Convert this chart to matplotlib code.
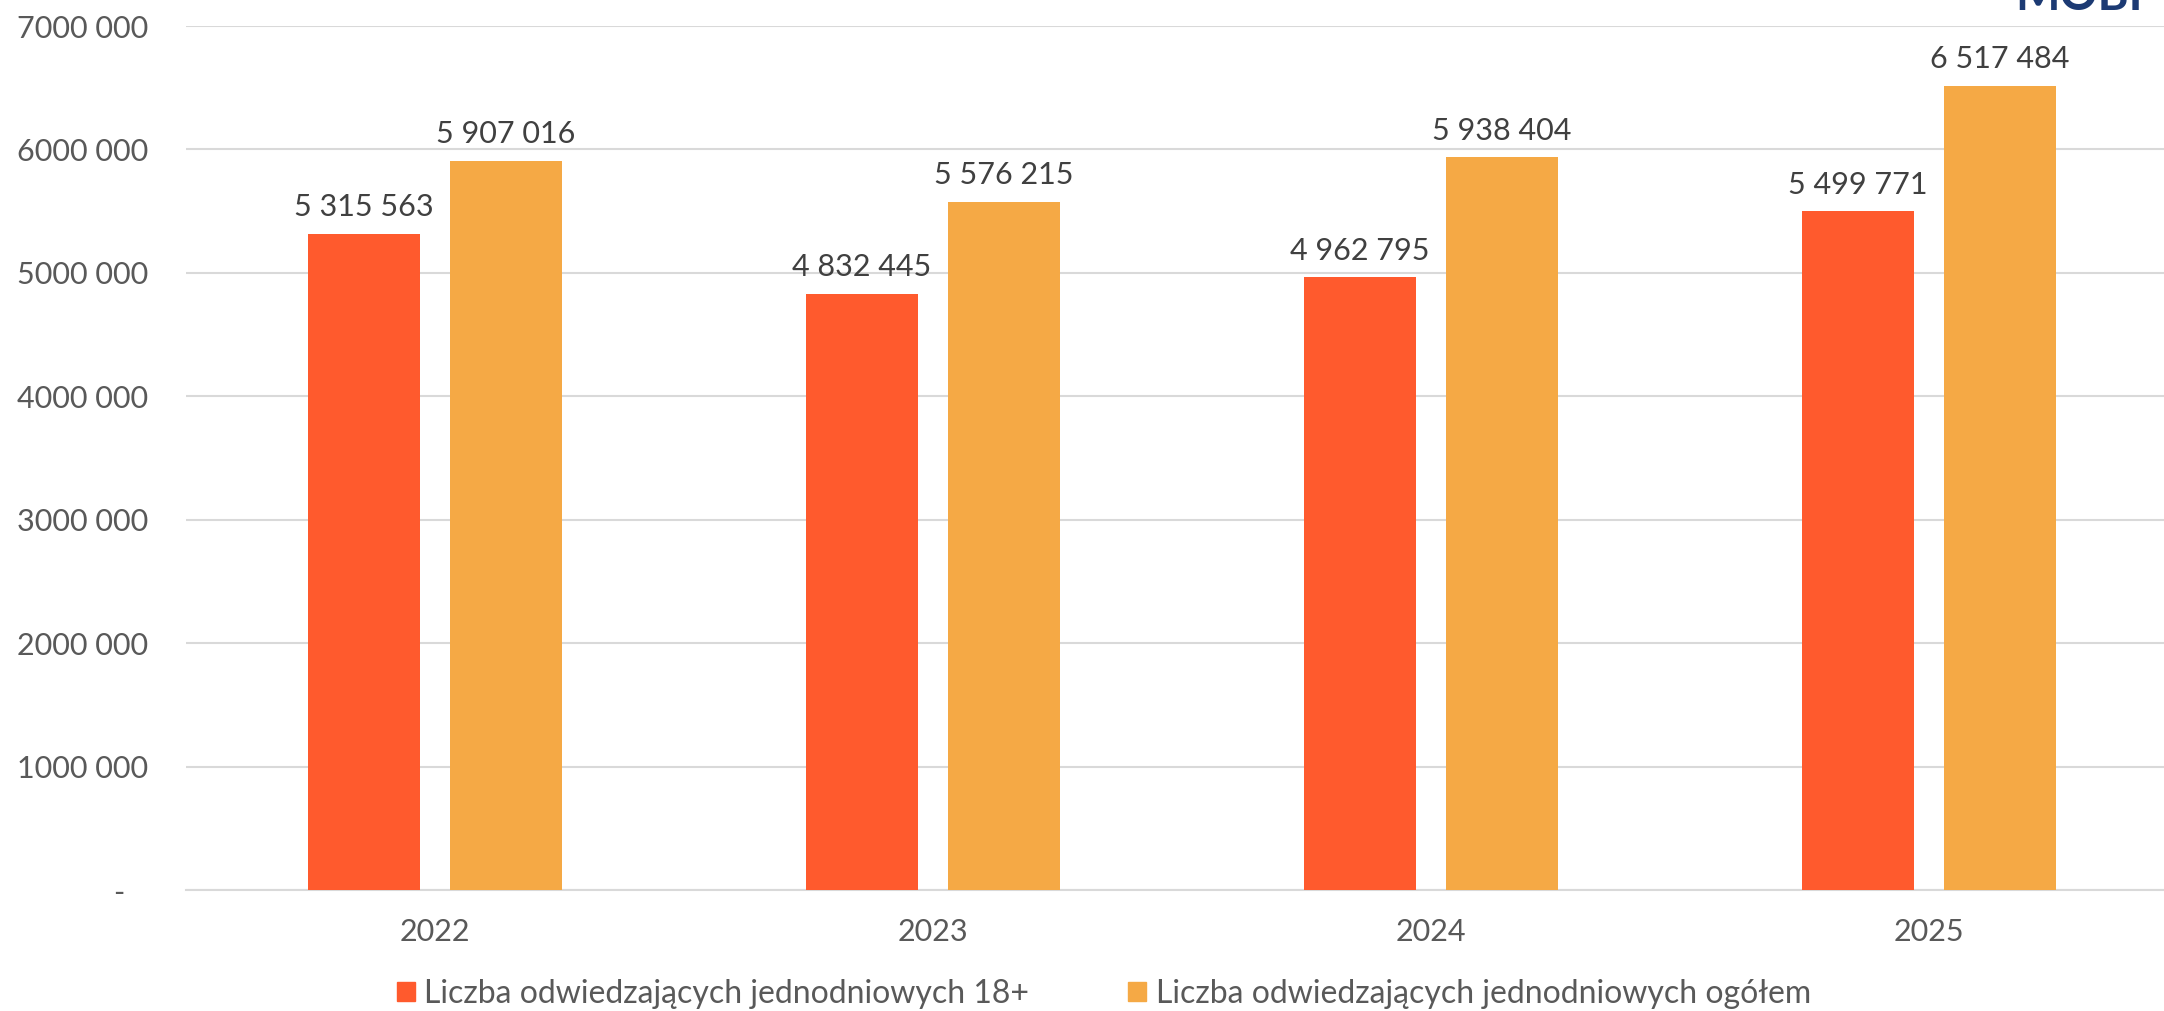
import matplotlib
matplotlib.use("Agg")
import numpy as np
import matplotlib.pyplot as plt
from matplotlib.patches import Patch

years = ["2022", "2023", "2024", "2025"]
adults = [5315563, 4832445, 4962795, 5499771]
total = [5907016, 5576215, 5938404, 6517484]
series_names = ["Liczba odwiedzających jednodniowych 18+",
                "Liczba odwiedzających jednodniowych ogółem"]
ytick_vals = [0, 1000000, 2000000, 3000000, 4000000, 5000000, 6000000, 7000000]
ytick_labels = ["-   ", "1000 000", "2000 000", "3000 000", "4000 000",
                "5000 000", "6000 000", "7000 000"]

RED = "#ff5a2d"
ORANGE = "#f5a945"
GRID = "#d9d9d9"
TICK = "#595959"
VAL = "#404040"

plt.rcParams['font.family'] = ['Lato', 'DejaVu Sans']

def fmt(v):
    return f"{v:,}".replace(",", " ")

fig = plt.figure(figsize=(21.64, 10.11), dpi=100)
ax = fig.add_axes([186/2164, 121/1011, 1992/2164, 864/1011])

x = np.arange(len(years))
w = 0.225
off = 0.1426
b1 = ax.bar(x - off, adults, w, color=RED, zorder=3)
b2 = ax.bar(x + off, total, w, color=ORANGE, zorder=3)

for bars, vals in ((b1, adults), (b2, total)):
    for r, v in zip(bars, vals):
        ax.annotate(fmt(v), (r.get_x() + r.get_width()/2, v),
                    xytext=(0, 9), textcoords="offset points",
                    ha="center", va="bottom", fontsize=22, color=VAL)

ax.set_xlim(-0.5, 3.5)
ax.set_ylim(0, 7000000)
ax.set_yticks(ytick_vals)
ax.set_yticklabels(ytick_labels)
ax.set_xticks(x)
ax.set_xticklabels(years)
ax.tick_params(axis="y", length=0, pad=27, labelsize=22, labelcolor=TICK)
ax.tick_params(axis="x", length=0, pad=20, labelsize=22, labelcolor=TICK)
ax.grid(axis="y", color=GRID, linewidth=1.5, zorder=0)
for s in ["top", "right", "left"]:
    ax.spines[s].set_visible(False)
ax.spines["bottom"].set_color(GRID)
ax.spines["bottom"].set_linewidth(1.5)

handles = [Patch(color=RED, label=series_names[0]),
           Patch(color=ORANGE, label=series_names[1])]
leg = fig.legend(handles=handles, loc="center", bbox_to_anchor=(1104/2164, 1 - 994/1011),
                 ncol=2, frameon=False, fontsize=23, handlelength=0.55,
                 handleheight=0.55, handletextpad=0.3, columnspacing=3.1)
for t in leg.get_texts():
    t.set_color(TICK)

# logo cut off at the top edge
fig.text(2015/2164, 1 - 10/1011, "MOBI", fontsize=34, fontweight="bold",
         color="#1c3a73", va="baseline", ha="left")

fig.savefig("out.png", dpi=100)
